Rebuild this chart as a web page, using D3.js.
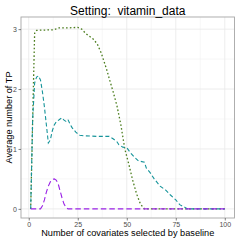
<!DOCTYPE html>
<html>
<head>
<meta charset="utf-8">
<script src="https://cdn.jsdelivr.net/npm/d3@7"></script>
<style>
  body { margin: 0; background: #fff; }
  svg { display: block; font-family: "Liberation Sans", Arial, sans-serif; }
</style>
</head>
<body>
<div id="chart"></div>
<script>
// values
var xTicks = [0, 25, 50, 75, 100];
var yTicks = [0, 1, 2, 3];

var greenX = [1, 2, 3, 4, 13, 15, 20, 25, 27, 29, 31, 33, 35, 37, 38, 40, 41, 43, 45, 47, 49, 51, 53, 55, 57, 59, 100];
var greenY = [0, 1.5, 2.93, 2.98, 2.99, 3.02, 3.02, 3.03, 3.0, 2.93, 2.88, 2.83, 2.75, 2.6, 2.5, 2.3, 2.18, 1.96, 1.72, 1.4, 1.0, 0.75, 0.48, 0.25, 0.08, 0, 0];

var tealX = [1, 2, 3, 4, 5, 6, 7, 8, 9, 10, 11, 12, 13, 14, 16, 17, 18, 19, 20, 21, 22, 24, 26, 28, 35, 41, 43, 45, 46, 48, 50, 52, 54, 56, 59, 60, 62, 64, 67, 70, 72, 75, 77, 80, 81, 100];
var tealY = [0, 1.5, 2.1, 2.2, 2.22, 2.15, 1.95, 1.7, 1.4, 1.1, 1.15, 1.3, 1.4, 1.45, 1.5, 1.52, 1.48, 1.46, 1.49, 1.42, 1.36, 1.28, 1.23, 1.22, 1.21, 1.21, 1.17, 1.12, 1.07, 1.03, 1.02, 0.93, 0.86, 0.8, 0.78, 0.68, 0.6, 0.5, 0.38, 0.31, 0.24, 0.15, 0.07, 0.02, 0, 0];

var purpleX = [1, 6, 7, 8, 9, 10, 11, 12, 13, 14, 15, 16, 17, 18, 19, 20, 100];
var purpleY = [0, 0, 0.05, 0.15, 0.28, 0.38, 0.45, 0.49, 0.5, 0.48, 0.42, 0.3, 0.18, 0.08, 0.03, 0, 0];

var series = [
  { xs: greenX, ys: greenY, color: '#4b7d1e', dash: '1.6,2.2', w: 1.3 },
  { xs: tealX, ys: tealY, color: '#16949a', dash: '4,2.5', w: 1.1 },
  { xs: purpleX, ys: purpleY, color: '#9a22e6', dash: '5.5,3', w: 1.1 }
];

var width = 241, height = 241;
var panel = { left: 21, right: 234.5, top: 17, bottom: 218 };

var x = d3.scaleLinear()
  .domain([1 - 4.95, 100 + 4.95])
  .range([panel.left, panel.right]);
var y = d3.scaleLinear()
  .domain([-0.1525, 3.05 + 0.1525])
  .range([panel.bottom, panel.top]);

var svg = d3.select('#chart').append('svg')
  .attr('width', width)
  .attr('height', height);

// panel background + grid
svg.append('rect')
  .attr('x', panel.left).attr('y', panel.top)
  .attr('width', panel.right - panel.left)
  .attr('height', panel.bottom - panel.top)
  .attr('fill', '#fff');

var minorX = [12.5, 37.5, 62.5, 87.5];
var minorY = [0.5, 1.5, 2.5];

svg.selectAll('.minx').data(minorX).enter().append('line')
  .attr('x1', function(d) { return x(d); }).attr('x2', function(d) { return x(d); })
  .attr('y1', panel.top).attr('y2', panel.bottom)
  .attr('stroke', '#f2f2f2').attr('stroke-width', 0.6);
svg.selectAll('.miny').data(minorY).enter().append('line')
  .attr('y1', function(d) { return y(d); }).attr('y2', function(d) { return y(d); })
  .attr('x1', panel.left).attr('x2', panel.right)
  .attr('stroke', '#f2f2f2').attr('stroke-width', 0.6);
svg.selectAll('.majx').data(xTicks).enter().append('line')
  .attr('x1', function(d) { return x(d); }).attr('x2', function(d) { return x(d); })
  .attr('y1', panel.top).attr('y2', panel.bottom)
  .attr('stroke', '#ebebeb').attr('stroke-width', 0.9);
svg.selectAll('.majy').data(yTicks).enter().append('line')
  .attr('y1', function(d) { return y(d); }).attr('y2', function(d) { return y(d); })
  .attr('x1', panel.left).attr('x2', panel.right)
  .attr('stroke', '#ebebeb').attr('stroke-width', 0.9);

// lines
var line = d3.line()
  .x(function(d) { return x(d[0]); })
  .y(function(d) { return y(d[1]); });

series.forEach(function(s) {
  var pts = s.xs.map(function(v, i) { return [v, s.ys[i]]; });
  svg.append('path')
    .datum(pts)
    .attr('d', line)
    .attr('fill', 'none')
    .attr('stroke', s.color)
    .attr('stroke-width', s.w)
    .attr('stroke-dasharray', s.dash);
});

// panel border
svg.append('rect')
  .attr('x', panel.left).attr('y', panel.top)
  .attr('width', panel.right - panel.left)
  .attr('height', panel.bottom - panel.top)
  .attr('fill', 'none')
  .attr('stroke', '#a6a6a6').attr('stroke-width', 0.9);

// axes
var xAxis = svg.append('g')
  .attr('transform', 'translate(0,' + panel.bottom + ')')
  .call(d3.axisBottom(x).tickValues(xTicks).tickFormat(d3.format('d')).tickSize(2.5).tickPadding(1.5));
var yAxis = svg.append('g')
  .attr('transform', 'translate(' + panel.left + ',0)')
  .call(d3.axisLeft(y).tickValues(yTicks).tickFormat(d3.format('d')).tickSize(2.5).tickPadding(1.5));

[xAxis, yAxis].forEach(function(a) {
  a.select('.domain').remove();
  a.selectAll('line').attr('stroke', '#4d4d4d').attr('stroke-width', 0.7);
  a.selectAll('text').attr('fill', '#4d4d4d').style('font-size', '7px')
    .style('font-family', '"Liberation Sans", Arial, sans-serif');
});

// titles
svg.append('text')
  .attr('x', (panel.left + panel.right) / 2)
  .attr('y', 15)
  .attr('text-anchor', 'middle')
  .style('font-size', '12px')
  .style('white-space', 'pre')
  .attr('fill', '#000')
  .text('Setting:  vitamin_data');

svg.append('text')
  .attr('x', (panel.left + panel.right) / 2)
  .attr('y', 236)
  .attr('text-anchor', 'middle')
  .style('font-size', '9.2px')
  .attr('fill', '#000')
  .text('Number of covariates selected by baseline');

svg.append('text')
  .attr('transform', 'translate(12,' + ((panel.top + panel.bottom) / 2) + ') rotate(-90)')
  .attr('text-anchor', 'middle')
  .style('font-size', '9.2px')
  .attr('fill', '#000')
  .text('Average number of TP');
</script>
</body>
</html>
